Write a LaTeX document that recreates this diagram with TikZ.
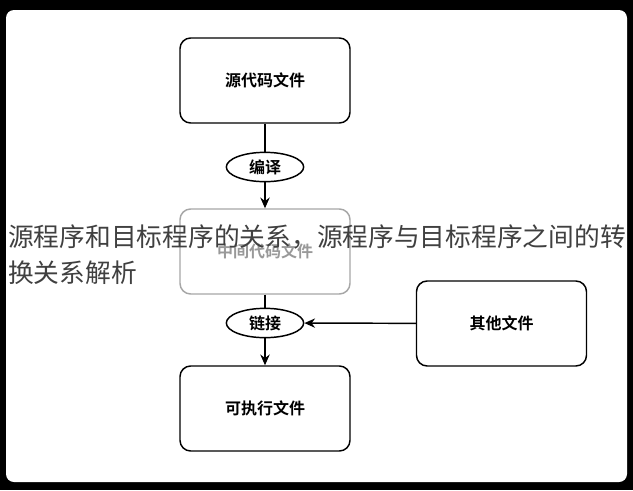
\documentclass[tikz,border=0pt]{standalone}
\usepackage{fontspec}
\newfontfamily\cjk{Noto Sans CJK SC}[BoldFont={* Bold}]
\usetikzlibrary{arrows.meta,shapes.geometric}
\begin{document}
\begin{tikzpicture}[x=0.75pt,y=-0.75pt,
  box/.style={draw,line width=1.1pt,rounded corners=8pt,minimum width=127.5pt,minimum height=63.75pt,font=\cjk\bfseries\fontsize{12}{14}\selectfont},
  oval/.style={draw,ellipse,line width=1.1pt,minimum width=58pt,minimum height=22pt,inner sep=0pt,font=\cjk\bfseries\fontsize{12}{14}\selectfont},
  arr/.style={line width=1.1pt,-{Stealth[length=8pt,width=7pt]}}]
\useasboundingbox (0,0) rectangle (633,490);
\fill[black] (0,0) rectangle (633,490);
\fill[white,rounded corners=6pt] (6,10) rectangle (627,482);
\node[box] (src) at (265,80.5) {源代码文件};
\node[oval] (comp) at (265,167) {编译};
\node[box,draw=gray!70,text=gray!80] (mid) at (265,251.5) {中间代码文件};
\node[oval] (link) at (265,323) {链接};
\node[box] (exe) at (265,408.5) {可执行文件};
\node[box] (oth) at (501.5,323.5) {其他文件};
\draw[line width=1.1pt] (src) -- (comp);
\draw[arr] (comp) -- (mid);
\draw[line width=1.1pt] (mid) -- (link);
\draw[arr] (link) -- (exe);
\draw[arr] (oth) -- (link);
\node[anchor=west,inner sep=0pt,font=\cjk\fontsize{19.3}{20}\selectfont,text=black!75] (w1) at (8,237) {源程序和目标程序的关系，源程序与目标程序之间的转};
\node[anchor=west,inner sep=0pt,font=\cjk\fontsize{19.3}{20}\selectfont,text=black!75] (w2) at (8,273) {换关系解析};
\end{tikzpicture}
\end{document}
